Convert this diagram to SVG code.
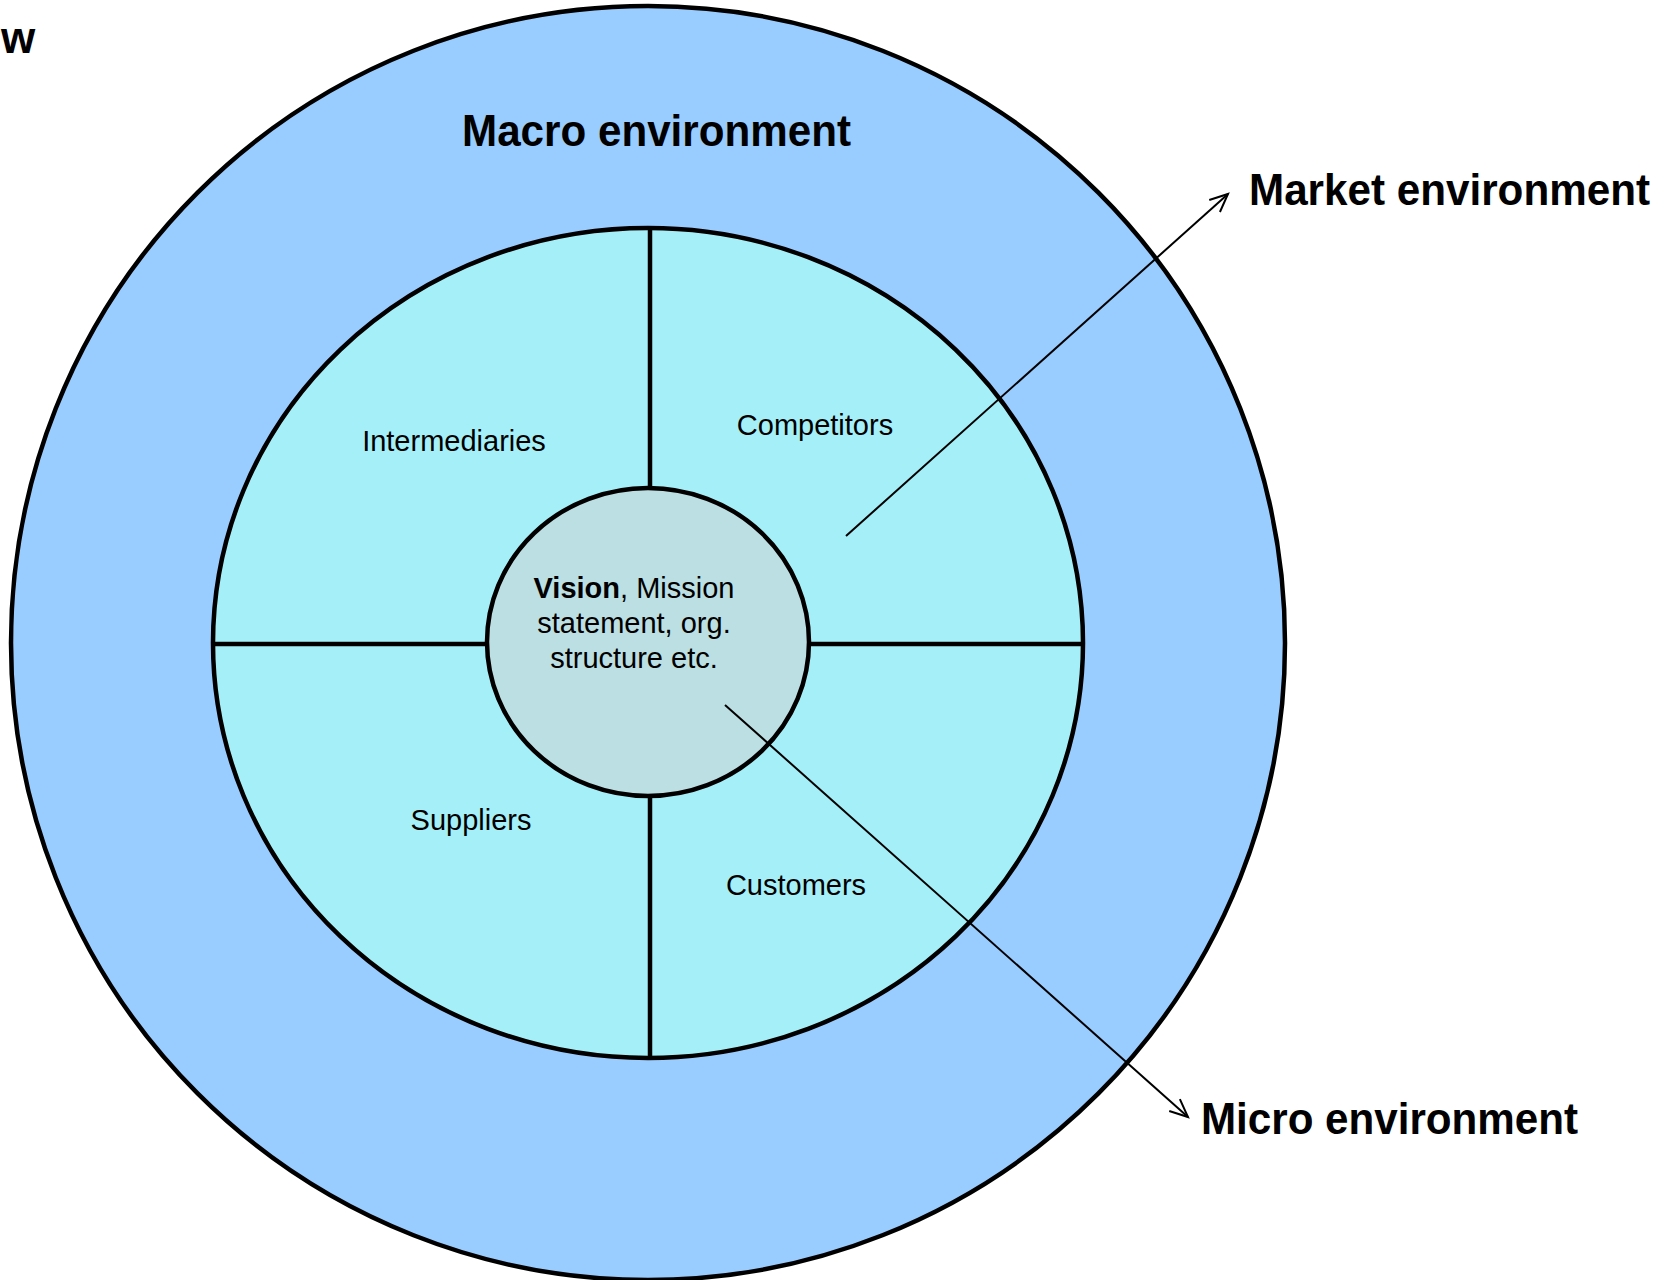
<svg xmlns="http://www.w3.org/2000/svg" width="1664" height="1280" viewBox="0 0 1664 1280">
<style>
.ring{stroke:#000;stroke-width:4.5}
.div{stroke:#000;stroke-width:4.5}
.big{font-family:"Liberation Sans",Arial,sans-serif;font-weight:bold;font-size:44px;fill:#000}
.lbl{font-family:"Liberation Sans",Arial,sans-serif;font-size:29px;fill:#000;text-anchor:middle}
.conn{stroke:#000;stroke-width:2;fill:none}
</style>
<defs>
<marker id="arr" markerUnits="userSpaceOnUse" markerWidth="24" markerHeight="24" viewBox="0 0 24 24" refX="21" refY="12" orient="auto">
<path d="M3,4 L21,12 L3,20" fill="none" stroke="#000" stroke-width="2"/>
</marker>
</defs>
<rect width="1664" height="1280" fill="#fff"/>
<g id="macro">
<circle class="ring" cx="648" cy="643" r="637" fill="#99CCFF"/>
<text class="big" x="462" y="146" textLength="389" lengthAdjust="spacingAndGlyphs">Macro environment</text>
</g>
<g id="market">
<ellipse class="ring" cx="648" cy="643" rx="435" ry="415" fill="#A5F0F8"/>
<line class="div" x1="650" y1="228" x2="650" y2="1058"/>
<line class="div" x1="213" y1="644" x2="1083" y2="644"/>
</g>
<g id="intermediaries"><text class="lbl" x="454" y="451">Intermediaries</text></g>
<g id="competitors"><text class="lbl" x="815" y="435">Competitors</text></g>
<g id="suppliers"><text class="lbl" x="471" y="830">Suppliers</text></g>
<g id="customers"><text class="lbl" x="796" y="895">Customers</text></g>
<g id="core">
<ellipse class="ring" cx="648" cy="642" rx="161" ry="154" fill="#BBDFE2"/>
<text class="lbl" x="634" y="598"><tspan font-weight="bold">Vision</tspan>, Mission</text>
<text class="lbl" x="634" y="633">statement, org.</text>
<text class="lbl" x="634" y="668">structure etc.</text>
</g>
<g id="labels">
<text class="big" x="1249" y="205" textLength="401" lengthAdjust="spacingAndGlyphs">Market environment</text>
<text class="big" x="1201" y="1134" textLength="377" lengthAdjust="spacingAndGlyphs">Micro environment</text>
<text class="big" x="1" y="53" font-size="56">w</text>
</g>
<g id="connectors">
<line class="conn" x1="846" y1="536" x2="1228" y2="194" marker-end="url(#arr)"/>
<line class="conn" x1="725" y1="705" x2="1188" y2="1117" marker-end="url(#arr)"/>
</g>
</svg>
